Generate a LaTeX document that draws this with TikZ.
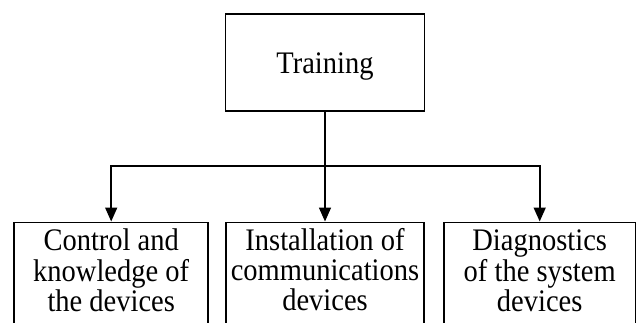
\documentclass[tikz,border=0pt]{standalone}
\usepackage{fontspec}
\usepackage{graphicx}
\setmainfont{Liberation Serif}
\usetikzlibrary{arrows.meta}
\newcommand\boxtext[1]{\scalebox{1}[1.1]{\begin{tabular}[t]{@{}c@{}}#1\end{tabular}}}
\tikzset{
  every node/.style={font=\fontsize{28.5pt}{27pt}\selectfont},
  rootbox/.style={draw, line width=1.6pt, minimum width=199pt, minimum height=97pt, inner sep=0pt, text height=23pt, text depth=0pt},
  leafbox/.style={draw, line width=1.6pt, anchor=north, inner sep=0pt, text height=28pt, text depth=90pt},
  link/.style={line width=1.6pt},
  arr/.style={link, -{Triangle[length=14pt,width=12pt]}}
}
\begin{document}
\begin{tikzpicture}[x=1pt,y=1pt]
\useasboundingbox (0,0) rectangle (637,322);
\clip (0,0) rectangle (637,322);
\node[rootbox] (train) at (325,259.5) {\boxtext{Training}};
\node[leafbox, minimum width=194pt] (c1) at (111.2,100.5) {\boxtext{Control and\\knowledge of\\the devices}};
\node[leafbox, minimum width=198pt] (c2) at (325,100.5) {\boxtext{Installation of\\communications\\devices}};
\node[leafbox, minimum width=191.5pt] (c3) at (539.7,100.5) {\boxtext{Diagnostics\\of the system\\devices}};
\coordinate (hub) at (325,156);
\draw[link] (train.south) -- (hub);
\draw[arr] (hub) -- (c2.north);
\draw[arr] (hub) -| (c1.north);
\draw[arr] (hub) -| (c3.north);
\end{tikzpicture}
\end{document}
